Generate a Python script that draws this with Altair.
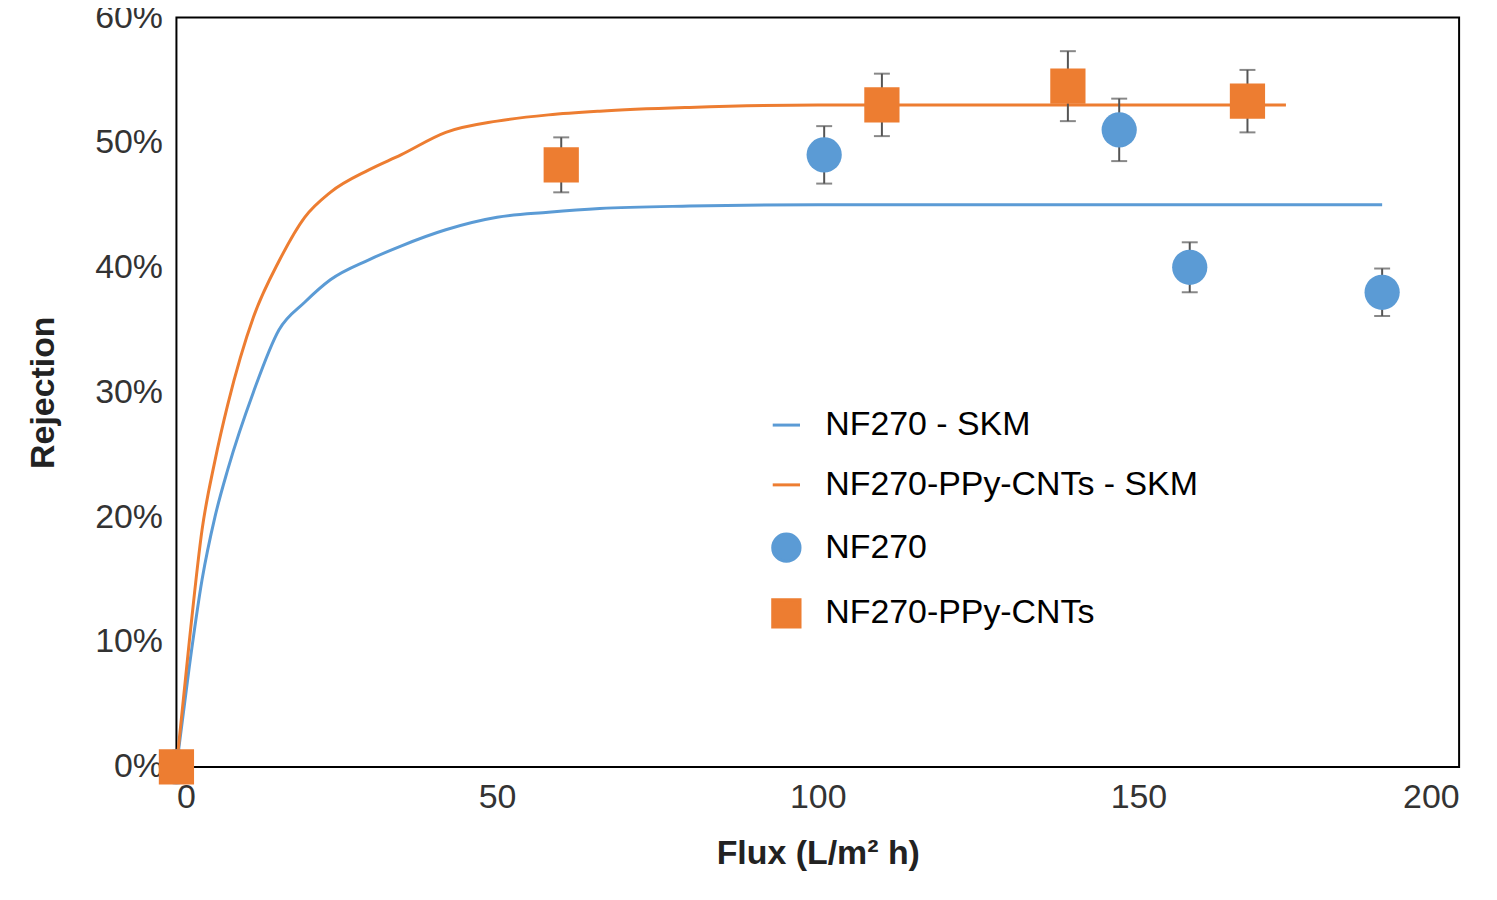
import altair as alt
import pandas as pd

# model curves
skm_x_blue = [0, 2, 4, 6, 8, 12, 16, 20, 24, 30, 35, 42, 50, 58, 66, 80, 100, 150, 188]
skm_y_blue = [0, 0.08, 0.15, 0.20, 0.238, 0.30, 0.35, 0.372, 0.39, 0.406, 0.417, 0.43, 0.44, 0.444, 0.447, 0.449, 0.45, 0.45, 0.45]
skm_x_orange = [0, 2, 4, 6, 8, 12, 16, 20, 24, 30, 35, 42, 50, 58, 66, 80, 100, 150, 173]
skm_y_orange = [0, 0.10, 0.19, 0.245, 0.29, 0.36, 0.405, 0.44, 0.46, 0.478, 0.49, 0.508, 0.517, 0.522, 0.525, 0.528, 0.53, 0.53, 0.53]

# measured points
nf_x = [0, 101, 147, 158, 188]
nf_y = [0, 0.49, 0.51, 0.40, 0.38]
nf_err = [0, 0.023, 0.025, 0.02, 0.019]
ppy_x = [0, 60, 110, 139, 167]
ppy_y = [0, 0.482, 0.53, 0.545, 0.533]
ppy_err = [0, 0.022, 0.025, 0.028, 0.025]

names = ["NF270 - SKM", "NF270-PPy-CNTs - SKM", "NF270", "NF270-PPy-CNTs"]
colors = ["#5b9bd5", "#ed7d31", "#5b9bd5", "#ed7d31"]
shapes = ["stroke", "stroke", "circle", "square"]

lines = pd.concat([
    pd.DataFrame({"x": skm_x_blue, "y": skm_y_blue, "s": names[0]}),
    pd.DataFrame({"x": skm_x_orange, "y": skm_y_orange, "s": names[1]}),
])
pts = pd.concat([
    pd.DataFrame({"x": nf_x, "y": nf_y, "e": nf_err, "s": names[2]}),
    pd.DataFrame({"x": ppy_x, "y": ppy_y, "e": ppy_err, "s": names[3]}),
])
pts["lo"] = pts["y"] - pts["e"]
pts["hi"] = pts["y"] + pts["e"]

font = "Liberation Sans"
X = alt.X("x:Q", scale=alt.Scale(domain=[0, 200]),
          axis=alt.Axis(values=[0, 50, 100, 150, 200], title="Flux (L/m² h)"))
Y = alt.Y("y:Q", scale=alt.Scale(domain=[0, 0.6]),
          axis=alt.Axis(values=[0, .1, .2, .3, .4, .5, .6], format=".0%", title="Rejection"))
color = alt.Color("s:N", scale=alt.Scale(domain=names, range=colors),
                  legend=alt.Legend(title=None, orient="none", legendX=595, legendY=392,
                                    labelFontSize=34, labelFont=font, symbolSize=750,
                                    symbolStrokeWidth=3, rowPadding=26, labelLimit=600,
                                    labelOffset=22, symbolType="stroke"))
shape = alt.Shape("s:N", scale=alt.Scale(domain=names, range=shapes), legend=None)

line_layer = alt.Chart(lines).mark_line(strokeWidth=3, interpolate="monotone").encode(X, Y, color)
bar_src = pts[pts["e"] > 0]
err = alt.Chart(bar_src).mark_rule(color="#555", strokeWidth=2).encode(X, alt.Y("lo:Q"), alt.Y2("hi:Q"))
cap_lo = alt.Chart(bar_src).mark_tick(color="#555", size=16, thickness=2, orient="horizontal").encode(X, alt.Y("lo:Q"))
cap_hi = alt.Chart(bar_src).mark_tick(color="#555", size=16, thickness=2, orient="horizontal").encode(X, alt.Y("hi:Q"))
point_layer = alt.Chart(pts).mark_point(filled=True, opacity=1, size=1250).encode(X, Y, color, shape)

chart = alt.layer(line_layer, err, cap_lo, cap_hi, point_layer).properties(
    width=1287, height=752, autosize="none",
    padding={"left": 169, "top": 8, "right": 30, "bottom": 120}
).configure_view(stroke="black", strokeWidth=2).configure_axis(
    grid=False, ticks=False, domain=False, labelFont=font, titleFont=font,
    labelFontSize=34, titleFontSize=34, labelColor="#333", titleColor="#222",
    labelPadding=14, titleFontWeight="bold"
).configure_axisY(titlePadding=34).configure_axisX(titlePadding=22)

chart.save("out.html", embed_options={"renderer": "svg", "actions": False})
